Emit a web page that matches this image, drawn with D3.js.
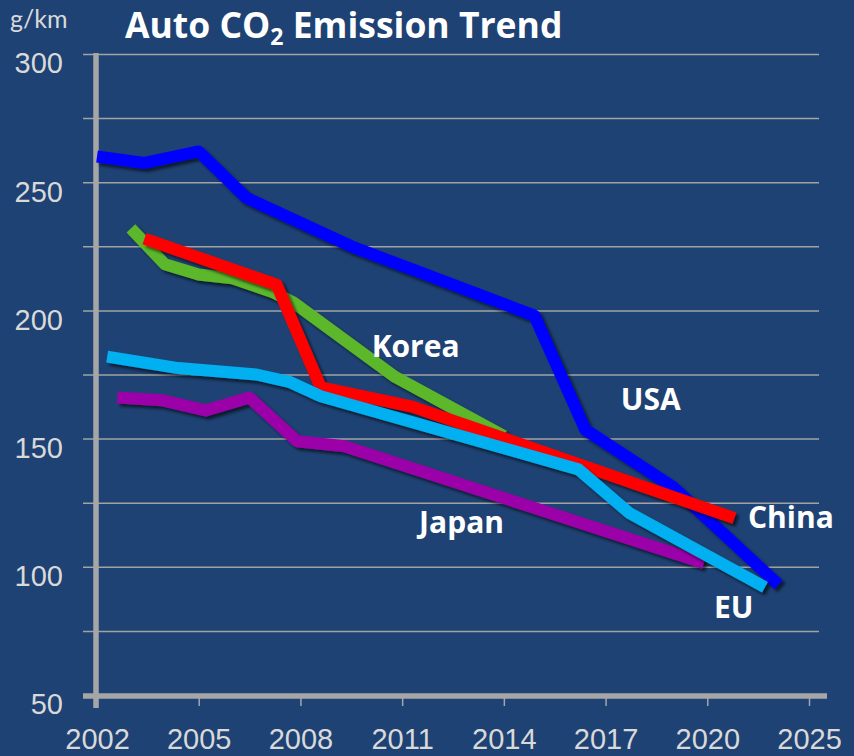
<!DOCTYPE html>
<html>
<head>
<meta charset="utf-8">
<script src="https://cdn.jsdelivr.net/npm/d3@7"></script>
<style>
  html, body { margin: 0; padding: 0; background: #1e4273; }
  svg { display: block; font-family: Lato, "Open Sans", sans-serif; }
</style>
</head>
<body>
<div class="chart"></div>
<script>

// tick positions on the x axis and the labels written under them
var tickYears  = [2002, 2005, 2008, 2011, 2014, 2017, 2020, 2023];
var tickLabels = ["2002", "2005", "2008", "2011", "2014", "2017", "2020", "2025"];
var gridValues = [75, 100, 125, 150, 175, 200, 225, 250, 275, 300];
var yLabelValues = [50, 100, 150, 200, 250, 300];

// series, [year, g/km]
var usa   = [[2002.0, 260], [2003.4, 257.5], [2005.0, 262], [2006.4, 244], [2009.5, 225],
             [2014.9, 198], [2016.4, 153.5], [2019.0, 131], [2022.1, 93]];
var korea = [[2003.0, 232], [2004.0, 218], [2005.0, 214], [2006.0, 212.5], [2007.2, 207],
             [2007.8, 203], [2010.8, 174], [2014.0, 151]];
var china = [[2003.4, 228], [2007.3, 210], [2008.6, 170], [2011.3, 162.5], [2020.8, 119]];
var eu    = [[2002.3, 182], [2004.4, 177.5], [2006.7, 175], [2007.7, 172], [2008.6, 166.5],
             [2016.2, 138], [2017.7, 121], [2021.7, 92]];
var japan = [[2002.6, 166], [2003.9, 165], [2005.2, 161], [2006.5, 166], [2007.9, 149],
             [2009.3, 147], [2019.9, 101.5]];

// label anchor = [year, g/km] of the text's left baseline
var series = [
  { name: "USA",   values: usa,   color: "#0000ff", label: [2017.45, 161] },
  { name: "Korea", values: korea, color: "#5cb82a", label: [2010.1, 182] },
  { name: "Japan", values: japan, color: "#9b00a9", label: [2011.5, 113] },
  { name: "China", values: china, color: "#ff0000", label: [2021.2, 115] },
  { name: "EU",    values: eu,    color: "#00b0f0", label: [2020.2, 80] }
];

var width = 854, height = 756;

var x = d3.scaleLinear().domain([2002, 2023]).range([97, 809]);
var y = d3.scaleLinear().domain([50, 300]).range([695, 54]);

var svg = d3.select(".chart")
  .append("svg")
  .attr("width", width)
  .attr("height", height);

svg.append("rect")
  .attr("width", width)
  .attr("height", height)
  .attr("fill", "#1e4273");

var defs = svg.append("defs");
var shadow = defs.append("filter")
  .attr("id", "shadow")
  .attr("x", "-10%").attr("y", "-10%")
  .attr("width", "120%").attr("height", "120%");
shadow.append("feDropShadow")
  .attr("dx", 3).attr("dy", 3)
  .attr("stdDeviation", 1.6)
  .attr("flood-color", "#000")
  .attr("flood-opacity", 0.6);

// gridlines (left axis with long ticks)
var grid = svg.append("g")
  .attr("transform", "translate(" + x(2002) + ",0)")
  .call(d3.axisLeft(y)
    .tickValues(gridValues)
    .tickSize(-(819 - x(2002)))
    .tickSizeOuter(0)
    .tickFormat(""));
grid.select(".domain").remove();
grid.selectAll(".tick line")
  .attr("x1", -14)
  .attr("stroke", "#a3a3a3")
  .attr("stroke-width", 1.5);

// y labels
var yAxis = svg.append("g")
  .attr("transform", "translate(" + x(2002) + ",0)")
  .call(d3.axisLeft(y).tickValues(yLabelValues).tickSize(0).tickPadding(34));
yAxis.select(".domain").remove();
yAxis.selectAll(".tick text")
  .attr("fill", "#d9d9d9")
  .attr("font-size", 29)
  .attr("dy", "0.65em");

// x axis
var xAxis = svg.append("g")
  .attr("transform", "translate(0," + y(50) + ")")
  .call(d3.axisBottom(x)
    .tickValues(tickYears)
    .tickSize(11)
    .tickSizeOuter(0)
    .tickPadding(22)
    .tickFormat(function(d, i){ return tickLabels[i]; }));
xAxis.select(".domain").remove();
xAxis.selectAll(".tick line")
  .attr("stroke", "#a6a6a6")
  .attr("stroke-width", 1.5);
xAxis.selectAll(".tick text")
  .attr("fill", "#d9d9d9")
  .attr("font-size", 29);

// thick axis lines
svg.append("line")
  .attr("x1", 83).attr("x2", 827)
  .attr("y1", y(50) + 1).attr("y2", y(50) + 1)
  .attr("stroke", "#a6a6a6")
  .attr("stroke-width", 5.5);
svg.append("line")
  .attr("x1", x(2002) - 1).attr("x2", x(2002) - 1)
  .attr("y1", y(300) - 1).attr("y2", y(50) + 13)
  .attr("stroke", "#a6a6a6")
  .attr("stroke-width", 5.5);

// series lines
var line = d3.line()
  .x(function(d){ return x(d[0]); })
  .y(function(d){ return y(d[1]); });

svg.append("g")
  .selectAll("path")
  .data(series)
  .enter()
  .append("path")
    .attr("d", function(d){ return line(d.values); })
    .attr("fill", "none")
    .attr("stroke", function(d){ return d.color; })
    .attr("stroke-width", 12)
    .attr("stroke-linejoin", "round")
    .attr("filter", "url(#shadow)");

// series labels
svg.append("g")
  .selectAll("text")
  .data(series)
  .enter()
  .append("text")
    .attr("x", function(d){ return x(d.label[0]); })
    .attr("y", function(d){ return y(d.label[1]); })
    .attr("fill", "#ffffff")
    .attr("font-family", "'Open Sans', sans-serif")
    .attr("font-weight", "bold")
    .attr("font-size", 30)
    .text(function(d){ return d.name; });

// unit + title
svg.append("text")
  .attr("x", 10).attr("y", 28)
  .attr("fill", "#d9d9d9")
  .attr("font-size", 25)
  .text("g/km");

var title = svg.append("text")
  .attr("x", 125).attr("y", 38)
  .attr("fill", "#ffffff")
  .attr("font-family", "'Open Sans', sans-serif")
  .attr("font-weight", "bold")
  .attr("font-size", 35.5);
title.append("tspan").text("Auto CO");
title.append("tspan").attr("font-size", 23).attr("dy", 7).text("2");
title.append("tspan").attr("dy", -7).text(" Emission Trend");

</script>
</body>
</html>
